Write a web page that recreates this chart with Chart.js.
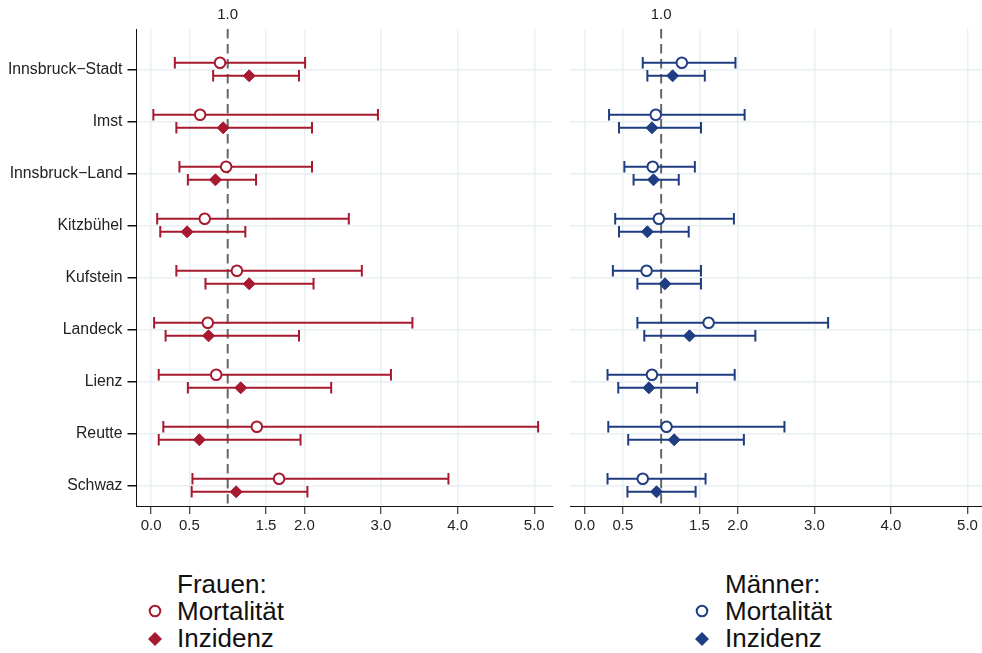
<!DOCTYPE html>
<html>
<head>
<meta charset="utf-8">
<script src="https://cdn.jsdelivr.net/npm/chart.js@4/dist/chart.umd.min.js"></script>
<style>
  body { margin: 0; background: #fff; width: 982px; height: 653px; overflow: hidden; position: relative; font-family: "Liberation Sans", Arial, sans-serif; }
  canvas { position: absolute; top: 0; }
  #left { left: 0; }
  #right { left: 555px; }
  .legend { position: absolute; top: 571px; font-size: 26px; line-height: 27px; color: #111; }
  .mark { position: absolute; }
</style>
</head>
<body>
<canvas id="left" width="560" height="540"></canvas>
<canvas id="right" width="435" height="540"></canvas>

<div class="legend" style="left:177px">Frauen:<br>Mortalität<br>Inzidenz</div>
<svg class="mark" style="left:145px;top:601px" width="20" height="20"><circle cx="10" cy="10" r="5.3" fill="#fff" stroke="#a6192e" stroke-width="2"/></svg>
<svg class="mark" style="left:145px;top:629px" width="20" height="20"><polygon points="10,3 17,10 10,17 3,10" fill="#a6192e"/></svg>

<div class="legend" style="left:725px">Männer:<br>Mortalität<br>Inzidenz</div>
<svg class="mark" style="left:692px;top:601px" width="20" height="20"><circle cx="10" cy="10" r="5.3" fill="#fff" stroke="#1f3d82" stroke-width="2"/></svg>
<svg class="mark" style="left:692px;top:629px" width="20" height="20"><polygon points="10,3 17,10 10,17 3,10" fill="#1f3d82"/></svg>

<script>
// districts, top to bottom
var categories = ["Innsbruck\u2212Stadt", "Imst", "Innsbruck\u2212Land", "Kitzbühel", "Kufstein", "Landeck", "Lienz", "Reutte", "Schwaz"];

// Frauen
var mortF   = [0.90, 0.64, 0.98, 0.70, 1.12, 0.74, 0.85, 1.38, 1.67];
var mortFLo = [0.31, 0.03, 0.37, 0.08, 0.33, 0.04, 0.10, 0.16, 0.54];
var mortFHi = [2.01, 2.96, 2.10, 2.58, 2.75, 3.41, 3.13, 5.05, 3.88];
var incF    = [1.28, 0.94, 0.84, 0.47, 1.28, 0.75, 1.17, 0.63, 1.11];
var incFLo  = [0.81, 0.33, 0.48, 0.12, 0.71, 0.19, 0.48, 0.10, 0.53];
var incFHi  = [1.93, 2.10, 1.37, 1.23, 2.12, 1.93, 2.35, 1.95, 2.04];

// Männer
var mortM   = [1.27, 0.93, 0.89, 0.97, 0.81, 1.62, 0.88, 1.07, 0.76];
var mortMLo = [0.76, 0.32, 0.52, 0.40, 0.37, 0.69, 0.30, 0.31, 0.30];
var mortMHi = [1.97, 2.09, 1.44, 1.95, 1.52, 3.18, 1.96, 2.61, 1.58];
var incM    = [1.15, 0.88, 0.90, 0.82, 1.05, 1.37, 0.84, 1.17, 0.94];
var incMLo  = [0.82, 0.45, 0.64, 0.45, 0.69, 0.78, 0.44, 0.57, 0.56];
var incMHi  = [1.57, 1.52, 1.23, 1.36, 1.52, 2.23, 1.47, 2.08, 1.45];

var xTicks = [0, 0.5, 1.5, 2, 3, 4, 5];
var refValue = 1;

Chart.defaults.font.family = '"Liberation Sans", Arial, sans-serif';
Chart.defaults.font.size = 15;
Chart.defaults.color = "#222";

var gridColor = "#e8f0f2";
var yMin = 0.225, yMax = 9.398;
var off = 0.125;

function ciPoints(lo, hi, shift) {
  var pts = [];
  lo.forEach(function (l, i) {
    pts.push({ x: l, y: i + 1 + shift }, { x: hi[i], y: i + 1 + shift }, { x: hi[i], y: null });
  });
  return pts;
}

function estPoints(vals, shift) {
  return vals.map(function (v, i) { return { x: v, y: i + 1 + shift }; });
}

function makePanel(id, color, mort, mortLo, mortHi, inc, incLo, incHi, left) {
  var ctx = document.getElementById(id).getContext("2d");
  var xMax = left ? 5.235 : 5.193;
  return new Chart(ctx, {
    type: "scatter",
    data: {
      datasets: [
        {
          data: [{ x: refValue, y: yMin }, { x: refValue, y: yMax }],
          showLine: true, borderColor: "#666", borderWidth: 2, borderDash: [9.5, 5.5],
          pointRadius: 0, order: 10
        },
        {
          data: ciPoints(mortLo, mortHi, -off),
          showLine: true, borderColor: color, borderWidth: 2, spanGaps: false,
          pointStyle: "line", rotation: 90, pointRadius: 5.7, pointBorderWidth: 2, pointBorderColor: color, order: 5
        },
        {
          data: ciPoints(incLo, incHi, off),
          showLine: true, borderColor: color, borderWidth: 2, spanGaps: false,
          pointStyle: "line", rotation: 90, pointRadius: 5.7, pointBorderWidth: 2, pointBorderColor: color, order: 5
        },
        {
          label: "Mortalität",
          data: estPoints(mort, -off),
          pointStyle: "circle", pointRadius: 5.3, pointBorderWidth: 2,
          pointBorderColor: color, pointBackgroundColor: "#fff", order: 1
        },
        {
          label: "Inzidenz",
          data: estPoints(inc, off),
          pointStyle: "rectRot", pointRadius: 6, pointBorderWidth: 1,
          pointBorderColor: color, pointBackgroundColor: color, order: 1
        }
      ]
    },
    options: {
      responsive: false,
      animation: false,
      events: [],
      layout: { padding: 0 },
      plugins: { legend: { display: false }, tooltip: { enabled: false } },
      scales: {
        x: {
          type: "linear", position: "bottom", min: -0.19, max: xMax,
          afterBuildTicks: function (s) { s.ticks = xTicks.map(function (v) { return { value: v }; }); },
          afterFit: function (s) { s.height = 34; },
          ticks: { autoSkip: false, maxRotation: 0, padding: 3, callback: function (v) { return v.toFixed(1); } },
          grid: { color: gridColor, lineWidth: 1.5, tickColor: "#111", tickLength: 8, tickWidth: 1 },
          border: { display: true, color: "#111", width: 1 }
        },
        x2: {
          type: "linear", position: "top", min: -0.19, max: xMax,
          afterBuildTicks: function (s) { s.ticks = [{ value: refValue }]; },
          afterFit: function (s) { s.height = 29; },
          ticks: { autoSkip: false, maxRotation: 0, padding: 5, callback: function (v) { return v.toFixed(1); } },
          grid: { display: false, drawTicks: false },
          border: { display: false }
        },
        y: {
          type: "linear", reverse: true, min: yMin, max: yMax,
          afterBuildTicks: function (s) { s.ticks = categories.map(function (c, i) { return { value: i + 1 }; }); },
          afterFit: function (s) { s.width = left ? 136.5 : 15; },
          ticks: {
            display: left, autoSkip: false, padding: 5, font: { size: 15.8 },
            callback: function (v) { return categories[v - 1]; }
          },
          grid: { color: gridColor, lineWidth: 1.5, tickColor: "#111", tickLength: 9, drawTicks: left },
          border: { display: left, color: "#111", width: 1 }
        }
      }
    }
  });
}

makePanel("left", "#a6192e", mortF, mortFLo, mortFHi, incF, incFLo, incFHi, true);
makePanel("right", "#1f3d82", mortM, mortMLo, mortMHi, incM, incMLo, incMHi, false);
</script>
</body>
</html>
